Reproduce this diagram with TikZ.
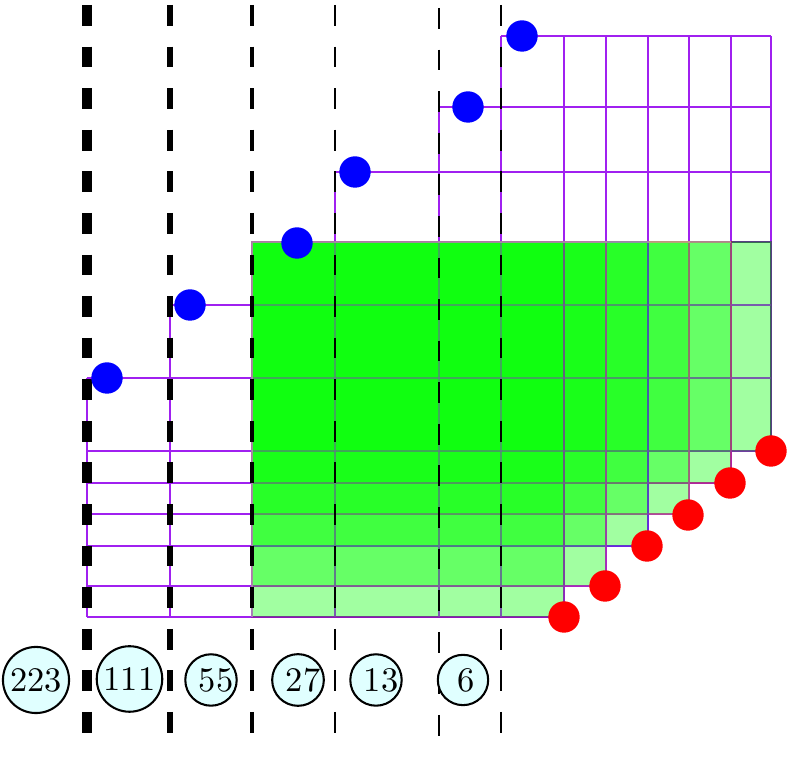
\documentclass[tikz,border=0pt]{standalone}
\definecolor{gridpurple}{RGB}{160,32,240}
\definecolor{circfill}{RGB}{224,255,255}
\begin{document}
\begin{tikzpicture}[x=0.29pt,y=-0.29pt,
  gridline/.style={draw=gridpurple,line width=0.75pt},
  gridover/.style={draw=gridpurple!70!gray,line width=0.8pt,opacity=0.4},
  greenrect/.style={fill=green,fill opacity=0.37,draw opacity=0.45,line width=0.8pt},
  cut/.style={draw=black,dash pattern=on 6.03pt off 6.03pt},
  numnode/.style={circle,draw=black,line width=0.6pt,fill=circfill,inner sep=1pt,minimum size=14.6pt,font=\fontsize{10}{12}\selectfont},
  bluedot/.style={circle,fill=blue,inner sep=0pt,minimum size=9.1pt},
  reddot/.style={circle,fill=red,inner sep=0pt,minimum size=9.1pt}]
\useasboundingbox (0,0) rectangle (791,758);

% purple grid (staircase region)
\foreach \y/\l/\r in {36/501/771,107/439/771,172/335/771,242/252/771,305/170/771,378/87/771,451/87/771,483/87/731,514/87/689,546/87/648,586/87/606,617/87/564}
  \draw[gridline] (\l,\y) -- (\r,\y);
\foreach \x/\t/\b in {87/378/617,170/305/617,252/242/617,335/172/617,439/107/617,501/36/617,564/36/617,606/36/586,648/36/546,689/36/514,731/36/483,771/36/451}
  \draw[gridline] (\x,\t) -- (\x,\b);

% overlapping green rectangles
\foreach \r/\b/\c in {771/451/green!40!black,731/483/red,689/514/orange,648/546/blue,606/586/magenta,564/617/violet}
  \draw[greenrect,draw=\c] (252,242) rectangle (\r,\b);

% grid seen through the green
\foreach \y/\r in {305/771,378/771,451/771,483/731,514/689,546/648,586/606}
  \draw[gridover] (252,\y) -- (\r,\y);
\foreach \x/\b in {335/617,439/617,501/617,564/617,606/586,648/546,689/514,731/483}
  \draw[gridover] (\x,242) -- (\x,\b);
\draw[gray!50,opacity=0.6,line width=0.8pt] (252,617) -- (252,242) -- (731,242);

% dashed cut lines
\foreach \x/\w in {87/2.9pt,170/1.9pt,252/1.3pt,335/0.8pt,501/0.65pt}
  \draw[cut,line width=\w] (\x,5) -- (\x,733);
\draw[cut,line width=0.75pt] (439,8) -- (439,736);

% size labels
\node[numnode] (n223) at (36,680) {223};
\node[numnode] (n111) at (129.5,679) {111};
\node[numnode] (n55) at (211,680) {\kern1.5pt 55\kern-1.5pt};
\node[numnode] (n27) at (298,680) {\kern1.5pt 27\kern-1.5pt};
\node[numnode] (n13) at (376,680) {\kern1.5pt 13\kern-1.5pt};
\node[numnode] (n6) at (463,680) {\kern1pt 6\kern-1pt};

% blue dots
\node[bluedot] (b1) at (107,378) {};
\node[bluedot] (b2) at (190,305) {};
\node[bluedot] (b3) at (297,243) {};
\node[bluedot] (b4) at (355,172) {};
\node[bluedot] (b5) at (468,107) {};
\node[bluedot] (b6) at (522,36) {};

% red dots
\node[reddot] (r1) at (564,617) {};
\node[reddot] (r2) at (605,586) {};
\node[reddot] (r3) at (647,546) {};
\node[reddot] (r4) at (688,515) {};
\node[reddot] (r5) at (730,483) {};
\node[reddot] (r6) at (771,451) {};
\end{tikzpicture}
\end{document}
